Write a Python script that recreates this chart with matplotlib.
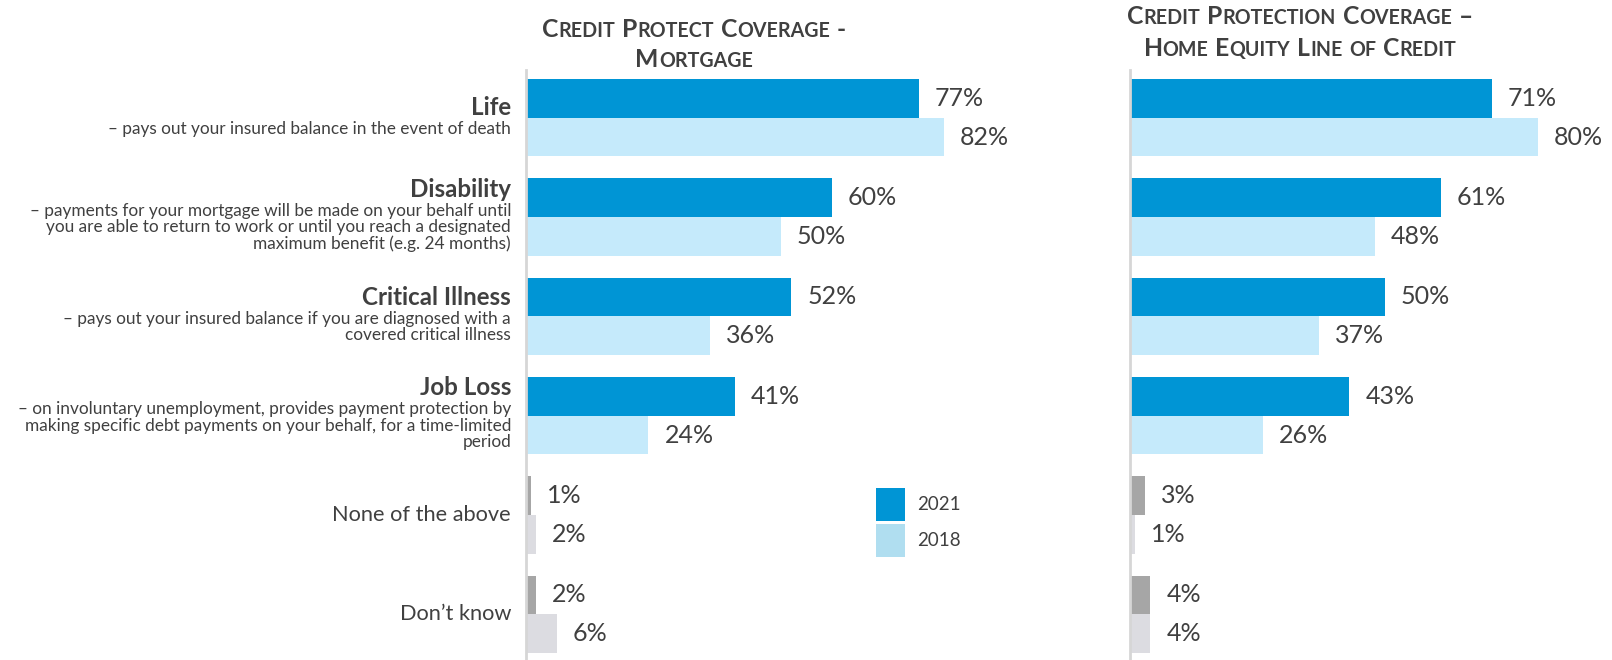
import numpy as np
import matplotlib
matplotlib.use("Agg")
import matplotlib.pyplot as plt
from matplotlib.patches import Patch

plt.rcParams['font.family'] = ['Lato', 'DejaVu Sans']

# data
categories = ["Life", "Disability", "Critical Illness", "Job Loss",
              "None of the above", "Don\u2019t know"]
descriptions = [
    "\u2013 pays out your insured balance in the event of death",
    "\u2013 payments for your mortgage will be made on your behalf until\n"
    "you are able to return to work or until you reach a designated\n"
    "maximum benefit (e.g. 24 months)",
    "\u2013 pays out your insured balance if you are diagnosed with a\n"
    "covered critical illness",
    "\u2013 on involuntary unemployment, provides payment protection by\n"
    "making specific debt payments on your behalf, for a time-limited\n"
    "period",
    None,
    None,
]
mortgage_2021 = [77, 60, 52, 41, 1, 2]
mortgage_2018 = [82, 50, 36, 24, 2, 6]
heloc_2021 = [71, 61, 50, 43, 3, 4]
heloc_2018 = [80, 48, 37, 26, 1, 4]
years = ["2021", "2018"]

W, H, DPI = 1612, 660, 100
TXT = "#404040"
BLUE_DARK, BLUE_LIGHT = "#0095D5", "#C5EAFB"
GREY_DARK, GREY_LIGHT = "#A6A6A6", "#DCDCE1"
PX_PER_PCT = 5.1

fig = plt.figure(figsize=(W / DPI, H / DPI), dpi=DPI)


def px_axes(x0, x1, top):
    return fig.add_axes([x0 / W, 0, (x1 - x0) / W, (H - top) / H])


ax1 = px_axes(526, 1036, 70)
ax2 = px_axes(1130, 1612, 70)

y = np.arange(len(categories))
bh = 0.39
for ax, v21, v18 in [(ax1, mortgage_2021, mortgage_2018), (ax2, heloc_2021, heloc_2018)]:
    c21 = [BLUE_DARK if d else GREY_DARK for d in descriptions]
    c18 = [BLUE_LIGHT if d else GREY_LIGHT for d in descriptions]
    b1 = ax.barh(y - bh / 2, v21, height=bh, color=c21)
    b2 = ax.barh(y + bh / 2, v18, height=bh, color=c18)
    for bars, vals in [(b1, v21), (b2, v18)]:
        for b, v in zip(bars, vals):
            ax.annotate(f"{v}%", xy=(b.get_width(), b.get_y() + b.get_height() / 2),
                        xytext=(16, 0), textcoords="offset pixels",
                        va="center", ha="left", fontsize=18, color=TXT)
    pos = ax.get_position()
    ax.set_xlim(0, pos.width * W / PX_PER_PCT)
    ax.set_ylim(len(categories) - 1 + 0.46, -0.48)
    for s in ["top", "right", "bottom"]:
        ax.spines[s].set_visible(False)
    ax.spines["left"].set_color("#D6D6D6")
    ax.spines["left"].set_linewidth(2)
    ax.set_xticks([])
    ax.set_yticks([])

# category labels
TITLE_H, LINE_H = 25, 18
for i, (cat, desc) in enumerate(zip(categories, descriptions)):
    if desc is None:
        ax1.annotate(cat, xy=(0, i), xytext=(-15, 0), textcoords="offset pixels",
                     ha="right", va="center", fontsize=15.7, color=TXT)
        continue
    n = desc.count("\n") + 1
    block = TITLE_H + n * LINE_H
    ax1.annotate(cat, xy=(0, i), xytext=(-15, block / 2), textcoords="offset pixels",
                 ha="right", va="top", fontsize=17.4, fontweight="bold", color=TXT)
    ax1.annotate(desc, xy=(0, i), xytext=(-15, block / 2 - TITLE_H), textcoords="offset pixels",
                 ha="right", va="top", multialignment="right", fontsize=12.4,
                 color=TXT, linespacing=1.05)


def small_caps(cx, base_y, s, big=17.8, small=14.1):
    # uppercase letters big, lowercase drawn as smaller capitals
    r = fig.canvas.get_renderer()
    gap = 0.28 * big * DPI / 72
    items = []
    for k, word in enumerate(s.split(" ")):
        runs = []
        for ch in word:
            sz = small if ch.islower() else big
            if runs and runs[-1][1] == sz:
                runs[-1][0] += ch.upper()
            else:
                runs.append([ch.upper(), sz])
        for j, (t, sz) in enumerate(runs):
            txt = fig.text(0, 1 - base_y / H, t, fontsize=sz, fontweight="bold",
                           color=TXT, ha="left", va="baseline")
            items.append((txt, gap if (k > 0 and j == 0) else 0))
    widths = [t.get_window_extent(r).width for t, _ in items]
    total = sum(widths) + sum(g for _, g in items)
    x = cx - total / 2
    for (t, g), w in zip(items, widths):
        x += g
        t.set_x(x / W)
        x += w


small_caps(694, 37, "Credit Protect Coverage -")
small_caps(694, 67, "Mortgage")
small_caps(1300, 24, "Credit Protection Coverage \u2013")
small_caps(1300, 56, "Home Equity Line of Credit")

handles = [Patch(facecolor=BLUE_DARK), Patch(facecolor="#B0DEF0")]
fig.legend(handles, years, loc="upper left", bbox_to_anchor=(876 / W, 1 - 488 / H),
           frameon=False, fontsize=13.5, handlelength=1.55, handleheight=2.3,
           labelspacing=0.2, handletextpad=0.65, borderaxespad=0, borderpad=0,
           labelcolor=TXT)

fig.savefig("out.png", dpi=DPI)
